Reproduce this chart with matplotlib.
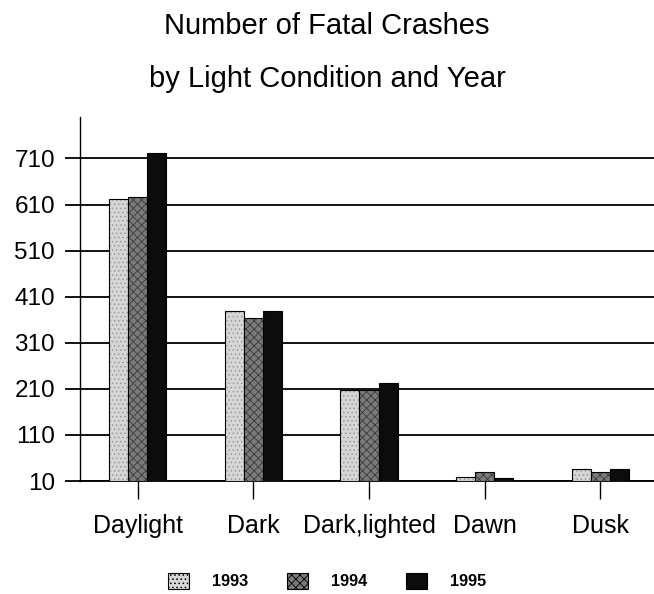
import matplotlib
matplotlib.use("Agg")
import matplotlib.pyplot as plt
import numpy as np
from matplotlib.patches import Patch

plt.rcParams['font.family'] = ['Liberation Sans', 'DejaVu Sans']
plt.rcParams['hatch.linewidth'] = 0.6

categories = ["Daylight", "Dark", "Dark,lighted", "Dawn", "Dusk"]
years = ["1993", "1994", "1995"]
v1993 = [622, 379, 208, 19, 35]
v1994 = [627, 363, 208, 29, 29]
v1995 = [721, 380, 222, 16, 36]
yticks = [10, 110, 210, 310, 410, 510, 610, 710]

series = [v1993, v1994, v1995]
colors = ['#d6d6d6', '#7a7a7a', '#0c0c0c']
hatches = ['....', 'xxxx', None]
hatch_colors = ['#9a9a9a', '#3a3a3a', '#0c0c0c']

fig = plt.figure(figsize=(6.54, 5.94), dpi=100)
ax = fig.add_axes([80/654, 113/594, 578/654, 364/594])

x = np.arange(len(categories))
w = 0.165
base = 10
for i, (vals, c, h, hc) in enumerate(zip(series, colors, hatches, hatch_colors)):
    heights = [v - base for v in vals]
    bars = ax.bar(x + (i - 1) * w, heights, width=w, bottom=base, color=c,
                  edgecolor='black', linewidth=0.8, zorder=3)
    if h:
        for b in bars:
            b.set_hatch(h)
            b._hatch_color = matplotlib.colors.to_rgba(hc)

ax.set_xlim(-0.5, 4.5)
ax.set_ylim(10, 800)
ax.set_yticks(yticks)
ax.set_yticklabels([str(t) for t in yticks], fontsize=17.5)
ax.set_xticks(x)
ax.set_xticklabels(categories, fontsize=18)
ax.yaxis.grid(True, color='black', linewidth=1.3, zorder=0)
ax.set_axisbelow(True)
for s in ['top', 'right']:
    ax.spines[s].set_visible(False)
ax.spines['left'].set_linewidth(1.0)
ax.spines['bottom'].set_linewidth(1.3)
ax.tick_params(axis='y', direction='out', length=11, width=1.3, pad=7)
ax.tick_params(axis='x', direction='out', length=13, width=1.0, pad=11)

fig.text(0.5, 1 - 34/594, "Number of Fatal Crashes", ha='center', va='baseline', fontsize=21)
fig.text(0.5, 1 - 87/594, "by Light Condition and Year", ha='center', va='baseline', fontsize=21)

handles = []
for c, h, hc in zip(colors, hatches, hatch_colors):
    p = Patch(facecolor=c, edgecolor='black', linewidth=0.8, hatch=h)
    handles.append(p)
leg = fig.legend(handles, years, loc='center', bbox_to_anchor=(0.5, 13/594), ncol=3,
                 frameon=False, prop={'family': 'Liberation Sans', 'weight': 'bold', 'size': 11.7},
                 handlelength=1.3, handleheight=1.15, handletextpad=1.4, columnspacing=2.4,
                 borderpad=0.2)

fig.savefig("out.png", dpi=100)
